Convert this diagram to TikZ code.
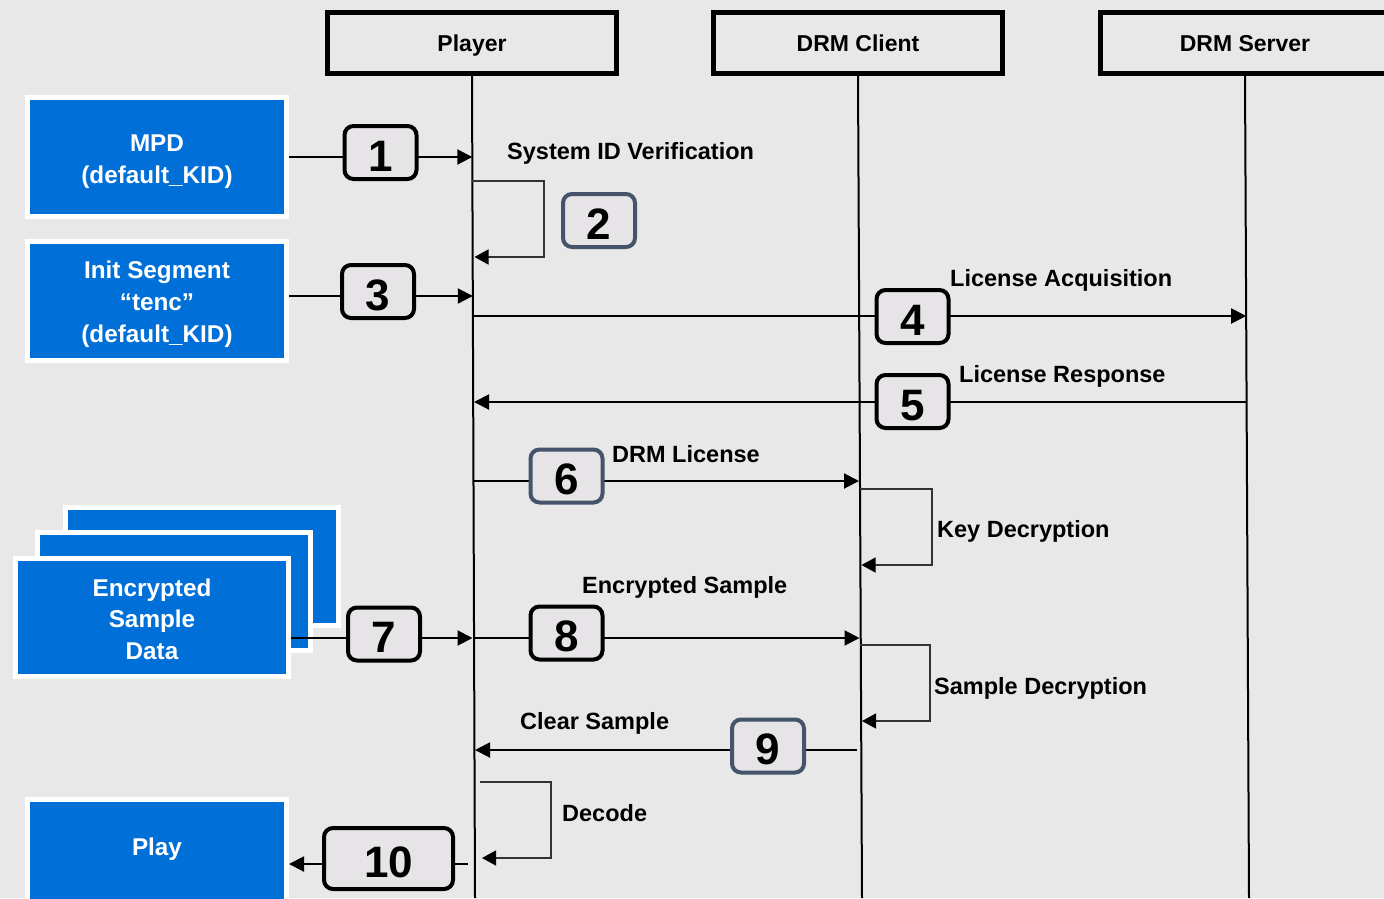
\documentclass[tikz,border=0pt]{standalone}
\usepackage{fontspec}
\setmainfont{Liberation Sans}
\usetikzlibrary{arrows.meta}
\definecolor{bgc}{HTML}{E8E8E8}
\definecolor{bluec}{HTML}{006FD8}
\definecolor{numfill}{HTML}{E6E4E6}
\definecolor{slate}{HTML}{44546A}
\definecolor{loopc}{HTML}{333333}
\newcommand\labfont{\fontsize{23.5}{32}\selectfont\bfseries}
\newcommand\headfont{\fontsize{23}{32}\selectfont\bfseries}
\newcommand\boxfont{\fontsize{24.3}{32}\selectfont\bfseries}
\newcommand\encfont{\fontsize{24.3}{31.5}\selectfont\bfseries}
\newcommand\numfont{\fontsize{44}{44}\selectfont\bfseries}
\newcommand\lowered[2]{\raisebox{-#1}[\height][\depth]{\begin{tabular}{@{}c@{}}#2\end{tabular}}}
\pgfdeclarelayer{back}
\pgfdeclarelayer{wires}
\pgfsetlayers{back,wires,main}
\begin{document}
\begin{tikzpicture}[x=1pt,y=-1pt,
  head/.style={draw=black, line width=5pt, fill=bgc, minimum width=289pt, minimum height=61pt,
    inner sep=0pt, font=\headfont, text height=16.5pt, text depth=0pt},
  life/.style={line width=2pt, draw=black},
  bluebox/.style={draw=white, line width=5pt, fill=bluec, text=white, minimum width=259pt,
    minimum height=119pt, inner sep=0pt, font=\boxfont},
  numbox/.style={draw=black, line width=4pt, rounded corners=9pt, fill=numfill, minimum width=72pt,
    minimum height=53pt, inner sep=0pt, font=\numfont, text height=37pt, text depth=0pt},
  numslate/.style={numbox, draw=slate},
  msg/.style={line width=2pt, draw=black, -{Triangle[length=15pt,width=15pt]}},
  plainmsg/.style={line width=2pt, draw=black},
  loopline/.style={line width=1.3pt, draw=loopc, -{Triangle[length=14pt,width=15pt,color=black]}},
  lab/.style={anchor=base west, inner sep=0pt, font=\labfont}
]
\useasboundingbox (0,0) rectangle (1384,898);
\begin{pgfonlayer}{back}
\fill[bgc] (0,0) rectangle (1384,898);
\end{pgfonlayer}

% lifeline heads
\node[head] (player) at (472,43) {Player};
\node[head] (client) at (858,43) {DRM Client};
\node[head] (server) at (1245,43) {DRM Server};

% lifeline ends and message points
\coordinate (pend) at (475,898);
\coordinate (cend) at (862,898);
\coordinate (send) at (1249,898);
\coordinate (p1) at (472.3,157);
\coordinate (p3) at (472.8,296);
\coordinate (p4) at (472.9,316);
\coordinate (s4) at (1246.2,316);
\coordinate (s5) at (1246.6,402);
\coordinate (p5) at (474,402);
\coordinate (p6) at (473.5,481);
\coordinate (c6) at (859,481);
\coordinate (p7) at (472.5,638);
\coordinate (p8) at (474.1,638);
\coordinate (c8) at (859.5,638);
\coordinate (c9) at (857,750);
\coordinate (p9) at (475,750);
\coordinate (p10) at (468,864);
\coordinate (l2a) at (472.4,181);
\coordinate (l2b) at (544,257);
\coordinate (l2c) at (474.5,257);
\coordinate (kda) at (860,489);
\coordinate (kdb) at (932,565);
\coordinate (kdc) at (861.5,565);
\coordinate (sda) at (860,645);
\coordinate (sdb) at (930,721);
\coordinate (sdc) at (862,721);
\coordinate (dca) at (480,782);
\coordinate (dcb) at (551,858);
\coordinate (dcc) at (482,858);

% blue source/sink boxes
\node[bluebox] (mpd) at (157,157) {\lowered{4pt}{MPD\\(default\_KID)}};
\node[bluebox] (init) at (157,300.5) {\lowered{4pt}{Init Segment\\“tenc”\\(default\_KID)}};
\node[bluebox, minimum width=273pt, minimum height=118pt] (encC) at (202,566.5) {};
\node[bluebox, minimum width=273pt, minimum height=118pt] (encB) at (173.5,591) {};
\node[bluebox, minimum width=273pt, minimum height=118pt, font=\encfont] (encA) at (152,617.5) {\lowered{4pt}{Encrypted\\Sample\\Data}};
\node[bluebox, minimum height=105.5pt] (play) at (157,852) {\lowered{-3pt}{Play}};

% number boxes
\node[numbox] (n1) at (380.5,152.5) {1};
\node[numslate] (n2) at (599,220.5) {2};
\node[numbox] (n3) at (378,291.5) {3};
\node[numbox] (n4) at (912.5,316.5) {4};
\node[numbox] (n5) at (912.5,401.5) {5};
\node[numslate] (n6) at (566.5,476) {6};
\node[numbox] (n7) at (384,634) {7};
\node[numbox] (n8) at (566.5,633) {8};
\node[numslate] (n9) at (768,746) {9};
\node[numbox, minimum width=129pt, minimum height=61pt] (n10) at (388.5,858.5) {10};

% labels
\node[lab] (t2) at (507,159) {System ID Verification};
\node[lab] (t4) at (950,286) {License Acquisition};
\node[lab] (t5) at (959,382) {License Response};
\node[lab] (t6) at (612,462) {DRM License};
\node[lab] (tkd) at (937,537) {Key Decryption};
\node[lab] (t8) at (582,593) {Encrypted Sample};
\node[lab] (tsd) at (934,694) {Sample Decryption};
\node[lab] (t9) at (520,729) {Clear Sample};
\node[lab] (tdc) at (562,821) {Decode};

% connector 7 crosses the stacked boxes, so it is drawn on top
\draw[plainmsg] ([yshift=-20.5pt]encA.east) -- ([yshift=-4pt]n7.west);
\draw[msg] ([yshift=-4pt]n7.east) -- (p7);

% connectors
\begin{pgfonlayer}{wires}
\draw[life] (player.south) -- (pend);
\draw[life] (client.south) -- (cend);
\draw[life] (server.south) -- (send);
\draw[msg] (mpd.east) -- (p1);
\draw[loopline] (l2a) -| (l2b) -- (l2c);
\draw[msg] ([yshift=4.5pt]init.east) -- (p3);
\draw[msg] (p4) -- (s4);
\draw[msg] (s5) -- (p5);
\draw[msg] (p6) -- (c6);
\draw[loopline] (kda) -| (kdb) -- (kdc);
\draw[msg] (p8) -- (c8);
\draw[loopline] (sda) -| (sdb) -- (sdc);
\draw[msg] (c9) -- (p9);
\draw[loopline] (dca) -| (dcb) -- (dcc);
\draw[msg] (p10) -- ([yshift=-12pt]play.east);
\end{pgfonlayer}
\end{tikzpicture}
\end{document}
